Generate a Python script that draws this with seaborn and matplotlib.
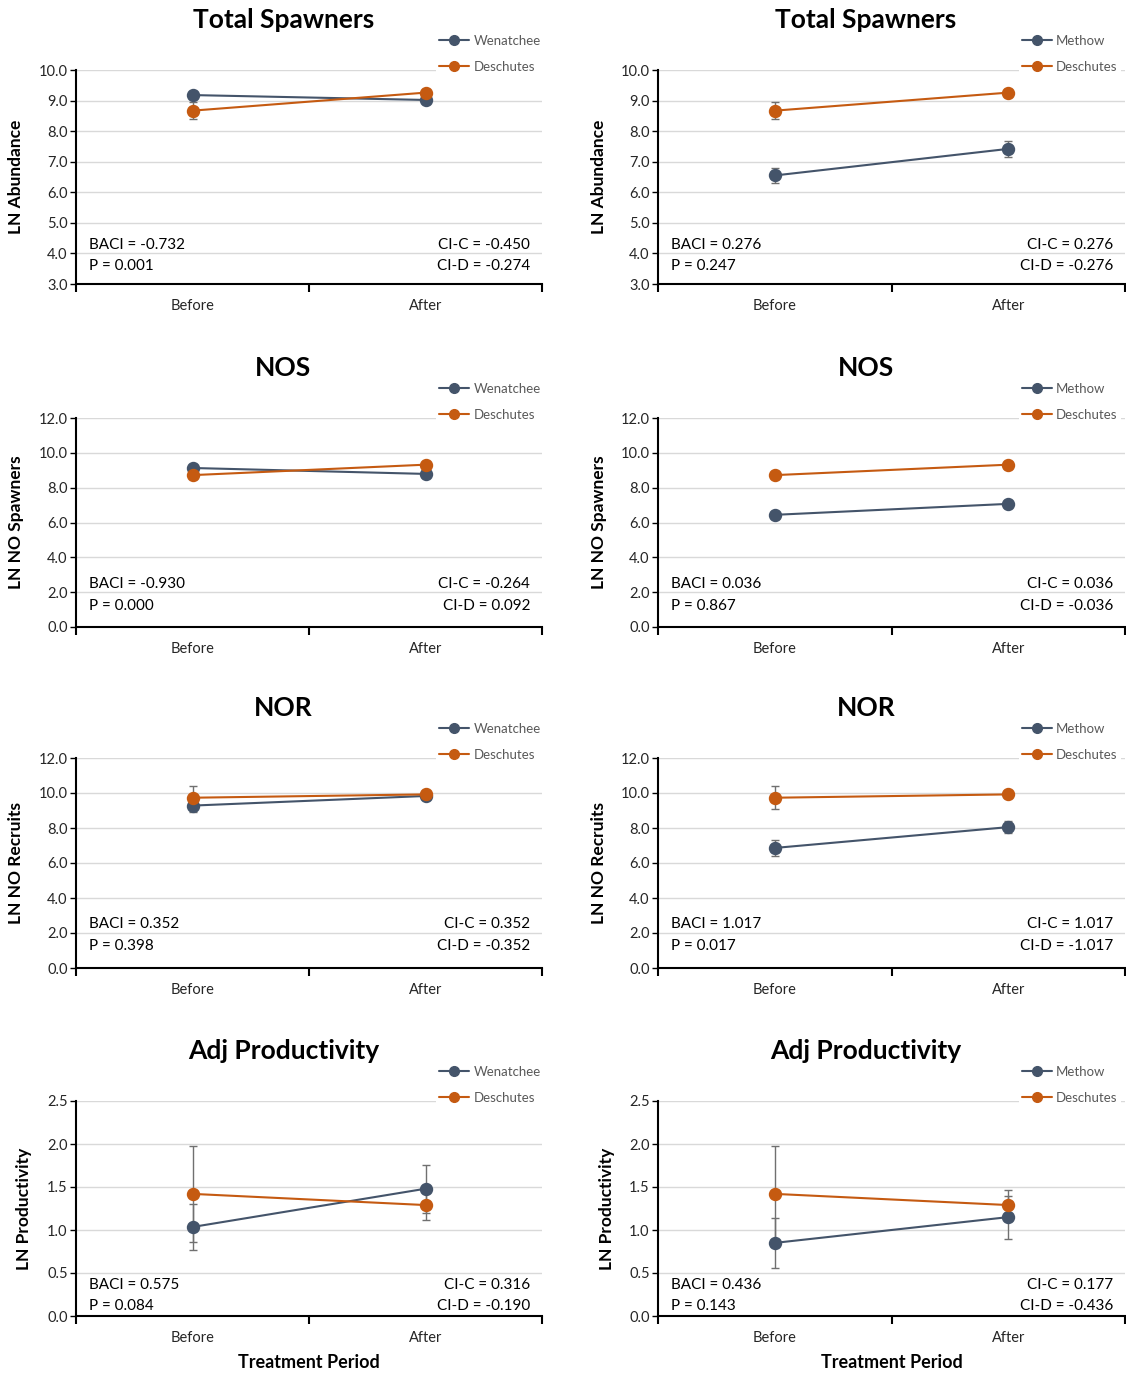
import numpy as np
import pandas as pd
import matplotlib.pyplot as plt
import matplotlib.ticker as mticker
from matplotlib.lines import Line2D
import seaborn as sns

# --- данные ---
periods = ['Before', 'After']
titles = ['Total Spawners', 'NOS', 'NOR', 'Adj Productivity']
ylabels = ['LN Abundance', 'LN NO Spawners', 'LN NO Recruits', 'LN Productivity']
controls = ['Wenatchee', 'Methow']

wenatchee_mean = [[9.18, 9.02], [9.13, 8.79], [9.28, 9.83], [1.035, 1.48]]
wenatchee_err = [[0.10, 0.06], [0.05, 0.05], [0.35, 0.20], [0.27, 0.28]]
methow_mean = [[6.55, 7.42], [6.44, 7.07], [6.86, 8.05], [0.85, 1.15]]
methow_err = [[0.26, 0.27], [0.05, 0.05], [0.45, 0.35], [0.29, 0.25]]
deschutes_mean = [[8.67, 9.26], [8.72, 9.32], [9.73, 9.92], [1.42, 1.29]]
deschutes_err = [[0.27, 0.11], [0.05, 0.05], [0.67, 0.10], [0.56, 0.17]]

wenatchee_baci = ['-0.732', '-0.930', '0.352', '0.575']
wenatchee_p = ['0.001', '0.000', '0.398', '0.084']
wenatchee_cic = ['-0.450', '-0.264', '0.352', '0.316']
wenatchee_cid = ['-0.274', '0.092', '-0.352', '-0.190']
methow_baci = ['0.276', '0.036', '1.017', '0.436']
methow_p = ['0.247', '0.867', '0.017', '0.143']
methow_cic = ['0.276', '0.036', '1.017', '0.177']
methow_cid = ['-0.276', '-0.036', '-1.017', '-0.436']

ylims = [(3, 10), (0, 12), (0, 12), (0, 2.5)]
ysteps = [1, 2, 2, 0.5]

# --- стиль ---
sns.set_theme(style='white')
plt.rcParams['font.family'] = ['Lato', 'DejaVu Sans']

BLUE = '#44546A'
ORANGE = '#C55A11'
GRID = '#D9D9D9'
ERR = '#707070'

W, H = 1126, 1374
fig = plt.figure(figsize=(W / 100, H / 100), dpi=100)

col_x0 = [76, 658]
col_w = [466, 467]
row_top = [70, 418, 758, 1101]
row_bot = [284, 627, 968, 1316]
stat_off = [(39, 18), (43, 21), (44, 22), (31, 10)]

for r in range(4):
    for c in range(2):
        hpx = row_bot[r] - row_top[r]
        ax = fig.add_axes([col_x0[c] / W, 1 - row_bot[r] / H, col_w[c] / W, hpx / H])

        if c == 0:
            ctrl_mean, ctrl_err = wenatchee_mean[r], wenatchee_err[r]
            baci, p, cic, cid = wenatchee_baci[r], wenatchee_p[r], wenatchee_cic[r], wenatchee_cid[r]
        else:
            ctrl_mean, ctrl_err = methow_mean[r], methow_err[r]
            baci, p, cic, cid = methow_baci[r], methow_p[r], methow_cic[r], methow_cid[r]
        name = controls[c]

        df = pd.DataFrame({
            'period': periods * 2,
            'river': [name] * 2 + ['Deschutes'] * 2,
            'value': list(ctrl_mean) + list(deschutes_mean[r]),
        })

        # error bars under the lines
        ax.errorbar([0, 1], ctrl_mean, yerr=ctrl_err, fmt='none', ecolor=ERR,
                    elinewidth=1, capsize=3, capthick=1, zorder=1.5)
        ax.errorbar([0, 1], deschutes_mean[r], yerr=deschutes_err[r], fmt='none', ecolor=ERR,
                    elinewidth=1, capsize=3, capthick=1, zorder=1.5)

        sns.pointplot(data=df, x='period', y='value', hue='river', order=periods,
                      hue_order=[name, 'Deschutes'], palette=[BLUE, ORANGE],
                      errorbar=None, markers='o', markersize=8.5, linewidth=1.5,
                      legend=False, ax=ax)

        lo, hi = ylims[r]
        ax.set_ylim(lo, hi)
        ax.set_xlim(-0.5, 1.5)
        ax.set_yticks(np.arange(lo, hi + ysteps[r] / 2, ysteps[r]))
        ax.yaxis.set_major_formatter(mticker.FormatStrFormatter('%.1f'))
        ax.yaxis.grid(True, color=GRID, linewidth=1)
        ax.set_axisbelow(True)

        # тики по границам категорий, подписи по центрам
        ax.set_xticks([-0.5, 0.5, 1.5])
        ax.set_xticklabels(['', '', ''])
        ax.set_xticks([0, 1], minor=True)
        ax.set_xticklabels(periods, minor=True)
        ax.tick_params(axis='x', which='major', direction='out', length=6, width=1.5,
                       color='black', bottom=True)
        ax.tick_params(axis='x', which='minor', length=0, pad=11, labelsize=10.5,
                       labelcolor='#262626', bottom=True)
        ax.tick_params(axis='y', direction='out', length=4, width=1, color='black',
                       left=True, labelsize=10.5, pad=2, labelcolor='#262626')

        for s in ['top', 'right']:
            ax.spines[s].set_visible(False)
        for s in ['left', 'bottom']:
            ax.spines[s].set_color('black')
            ax.spines[s].set_linewidth(1.5)

        ax.set_xlabel('')
        ax.set_ylabel(ylabels[r], fontsize=12.5, fontweight='bold', color='black')
        if r == 3:
            lab_x = -44 / col_w[c] if c == 0 else -43 / col_w[c]
        else:
            lab_x = -52 / col_w[c] if c == 0 else -51 / col_w[c]
        ax.yaxis.set_label_coords(lab_x, 0.5)

        ax.text(0.445, 1 + 50 / hpx, titles[r], transform=ax.transAxes,
                ha='center', va='center', fontsize=19, fontweight='bold', color='black')

        o1, o2 = stat_off[r]
        ax.text(0.028, o1 / hpx, f'BACI = {baci}', transform=ax.transAxes,
                ha='left', va='center', fontsize=11, color='black')
        ax.text(0.028, o2 / hpx, f'P = {p}', transform=ax.transAxes,
                ha='left', va='center', fontsize=11, color='black')
        ax.text(0.975, o1 / hpx, f'CI-C = {cic}', transform=ax.transAxes,
                ha='right', va='center', fontsize=11, color='black')
        ax.text(0.975, o2 / hpx, f'CI-D = {cid}', transform=ax.transAxes,
                ha='right', va='center', fontsize=11, color='black')

        handles = [Line2D([0], [0], color=BLUE, marker='o', markersize=7, linewidth=1.5),
                   Line2D([0], [0], color=ORANGE, marker='o', markersize=7, linewidth=1.5)]
        leg = ax.legend(handles, [name, 'Deschutes'], loc='center left',
                        bbox_to_anchor=(0.772, 1 + 16 / hpx), frameon=True,
                        facecolor='white', edgecolor='none', framealpha=1,
                        borderpad=0.25, borderaxespad=0, handlelength=2.3,
                        handletextpad=0.3, labelspacing=1.05, fontsize=9.5)
        for t in leg.get_texts():
            t.set_color('#595959')

        if r == 3:
            ax.set_xlabel('Treatment Period', fontsize=13, fontweight='bold', color='black')
            ax.xaxis.set_label_coords(0.5, -38 / hpx)
            ax.xaxis.label.set_va('top')

fig.savefig('out.png', dpi=100)
